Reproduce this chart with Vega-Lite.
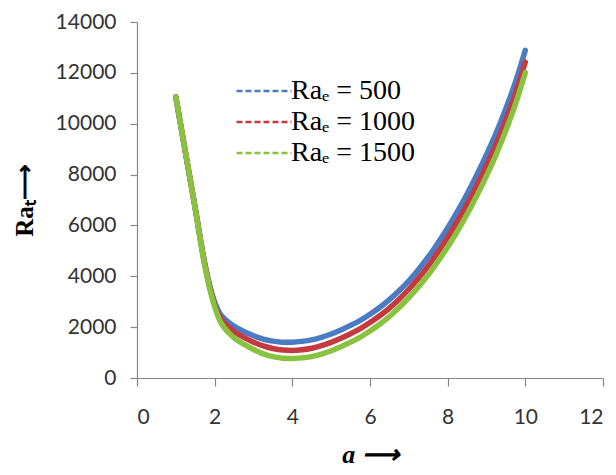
{
  "$schema": "https://vega.github.io/schema/vega-lite/v6.json",
  "autosize": {"type": "none"},
  "width": 466,
  "height": 356,
  "padding": {"left": 137, "top": 22, "right": 13, "bottom": 97},
  "background": "white",
  "config": {"view": {"stroke": null}},
  "datasets": {
    "curves": [
      {"a": 1.0, "Ra": 11050, "s": "Raₑ = 500"},
      {"a": 1.25, "Ra": 8850, "s": "Raₑ = 500"},
      {"a": 1.5, "Ra": 6680, "s": "Raₑ = 500"},
      {"a": 1.75, "Ra": 4470, "s": "Raₑ = 500"},
      {"a": 2.0, "Ra": 2980, "s": "Raₑ = 500"},
      {"a": 2.125, "Ra": 2560, "s": "Raₑ = 500"},
      {"a": 2.25, "Ra": 2330, "s": "Raₑ = 500"},
      {"a": 2.5, "Ra": 2030, "s": "Raₑ = 500"},
      {"a": 2.75, "Ra": 1830, "s": "Raₑ = 500"},
      {"a": 3.0, "Ra": 1660, "s": "Raₑ = 500"},
      {"a": 3.25, "Ra": 1530, "s": "Raₑ = 500"},
      {"a": 3.5, "Ra": 1450, "s": "Raₑ = 500"},
      {"a": 3.75, "Ra": 1410, "s": "Raₑ = 500"},
      {"a": 4.0, "Ra": 1410, "s": "Raₑ = 500"},
      {"a": 4.25, "Ra": 1440, "s": "Raₑ = 500"},
      {"a": 4.5, "Ra": 1500, "s": "Raₑ = 500"},
      {"a": 4.75, "Ra": 1600, "s": "Raₑ = 500"},
      {"a": 5.0, "Ra": 1730, "s": "Raₑ = 500"},
      {"a": 5.25, "Ra": 1890, "s": "Raₑ = 500"},
      {"a": 5.5, "Ra": 2070, "s": "Raₑ = 500"},
      {"a": 5.75, "Ra": 2270, "s": "Raₑ = 500"},
      {"a": 6.0, "Ra": 2510, "s": "Raₑ = 500"},
      {"a": 6.25, "Ra": 2775, "s": "Raₑ = 500"},
      {"a": 6.5, "Ra": 3080, "s": "Raₑ = 500"},
      {"a": 6.75, "Ra": 3430, "s": "Raₑ = 500"},
      {"a": 7.0, "Ra": 3820, "s": "Raₑ = 500"},
      {"a": 7.25, "Ra": 4270, "s": "Raₑ = 500"},
      {"a": 7.5, "Ra": 4760, "s": "Raₑ = 500"},
      {"a": 7.75, "Ra": 5310, "s": "Raₑ = 500"},
      {"a": 8.0, "Ra": 5900, "s": "Raₑ = 500"},
      {"a": 8.25, "Ra": 6540, "s": "Raₑ = 500"},
      {"a": 8.5, "Ra": 7230, "s": "Raₑ = 500"},
      {"a": 8.75, "Ra": 7980, "s": "Raₑ = 500"},
      {"a": 9.0, "Ra": 8780, "s": "Raₑ = 500"},
      {"a": 9.25, "Ra": 9640, "s": "Raₑ = 500"},
      {"a": 9.5, "Ra": 10600, "s": "Raₑ = 500"},
      {"a": 9.75, "Ra": 11660, "s": "Raₑ = 500"},
      {"a": 10.0, "Ra": 12886, "s": "Raₑ = 500"},

      {"a": 1.0, "Ra": 11050, "s": "Raₑ = 1000"},
      {"a": 1.25, "Ra": 8850, "s": "Raₑ = 1000"},
      {"a": 1.5, "Ra": 6665, "s": "Raₑ = 1000"},
      {"a": 1.75, "Ra": 4430, "s": "Raₑ = 1000"},
      {"a": 2.0, "Ra": 2890, "s": "Raₑ = 1000"},
      {"a": 2.125, "Ra": 2430, "s": "Raₑ = 1000"},
      {"a": 2.25, "Ra": 2160, "s": "Raₑ = 1000"},
      {"a": 2.5, "Ra": 1820, "s": "Raₑ = 1000"},
      {"a": 2.75, "Ra": 1600, "s": "Raₑ = 1000"},
      {"a": 3.0, "Ra": 1410, "s": "Raₑ = 1000"},
      {"a": 3.25, "Ra": 1260, "s": "Raₑ = 1000"},
      {"a": 3.5, "Ra": 1160, "s": "Raₑ = 1000"},
      {"a": 3.75, "Ra": 1100, "s": "Raₑ = 1000"},
      {"a": 4.0, "Ra": 1085, "s": "Raₑ = 1000"},
      {"a": 4.25, "Ra": 1110, "s": "Raₑ = 1000"},
      {"a": 4.5, "Ra": 1170, "s": "Raₑ = 1000"},
      {"a": 4.75, "Ra": 1270, "s": "Raₑ = 1000"},
      {"a": 5.0, "Ra": 1400, "s": "Raₑ = 1000"},
      {"a": 5.25, "Ra": 1560, "s": "Raₑ = 1000"},
      {"a": 5.5, "Ra": 1740, "s": "Raₑ = 1000"},
      {"a": 5.75, "Ra": 1940, "s": "Raₑ = 1000"},
      {"a": 6.0, "Ra": 2180, "s": "Raₑ = 1000"},
      {"a": 6.25, "Ra": 2445, "s": "Raₑ = 1000"},
      {"a": 6.5, "Ra": 2750, "s": "Raₑ = 1000"},
      {"a": 6.75, "Ra": 3100, "s": "Raₑ = 1000"},
      {"a": 7.0, "Ra": 3490, "s": "Raₑ = 1000"},
      {"a": 7.25, "Ra": 3930, "s": "Raₑ = 1000"},
      {"a": 7.5, "Ra": 4410, "s": "Raₑ = 1000"},
      {"a": 7.75, "Ra": 4950, "s": "Raₑ = 1000"},
      {"a": 8.0, "Ra": 5530, "s": "Raₑ = 1000"},
      {"a": 8.25, "Ra": 6155, "s": "Raₑ = 1000"},
      {"a": 8.5, "Ra": 6830, "s": "Raₑ = 1000"},
      {"a": 8.75, "Ra": 7565, "s": "Raₑ = 1000"},
      {"a": 9.0, "Ra": 8350, "s": "Raₑ = 1000"},
      {"a": 9.25, "Ra": 9200, "s": "Raₑ = 1000"},
      {"a": 9.5, "Ra": 10150, "s": "Raₑ = 1000"},
      {"a": 9.75, "Ra": 11205, "s": "Raₑ = 1000"},
      {"a": 10.0, "Ra": 12426, "s": "Raₑ = 1000"},

      {"a": 1.0, "Ra": 11050, "s": "Raₑ = 1500"},
      {"a": 1.25, "Ra": 8850, "s": "Raₑ = 1500"},
      {"a": 1.5, "Ra": 6650, "s": "Raₑ = 1500"},
      {"a": 1.75, "Ra": 4390, "s": "Raₑ = 1500"},
      {"a": 2.0, "Ra": 2800, "s": "Raₑ = 1500"},
      {"a": 2.125, "Ra": 2280, "s": "Raₑ = 1500"},
      {"a": 2.25, "Ra": 1970, "s": "Raₑ = 1500"},
      {"a": 2.5, "Ra": 1580, "s": "Raₑ = 1500"},
      {"a": 2.75, "Ra": 1330, "s": "Raₑ = 1500"},
      {"a": 3.0, "Ra": 1120, "s": "Raₑ = 1500"},
      {"a": 3.25, "Ra": 950, "s": "Raₑ = 1500"},
      {"a": 3.5, "Ra": 840, "s": "Raₑ = 1500"},
      {"a": 3.75, "Ra": 780, "s": "Raₑ = 1500"},
      {"a": 4.0, "Ra": 770, "s": "Raₑ = 1500"},
      {"a": 4.25, "Ra": 795, "s": "Raₑ = 1500"},
      {"a": 4.5, "Ra": 840, "s": "Raₑ = 1500"},
      {"a": 4.75, "Ra": 940, "s": "Raₑ = 1500"},
      {"a": 5.0, "Ra": 1070, "s": "Raₑ = 1500"},
      {"a": 5.25, "Ra": 1230, "s": "Raₑ = 1500"},
      {"a": 5.5, "Ra": 1410, "s": "Raₑ = 1500"},
      {"a": 5.75, "Ra": 1610, "s": "Raₑ = 1500"},
      {"a": 6.0, "Ra": 1850, "s": "Raₑ = 1500"},
      {"a": 6.25, "Ra": 2115, "s": "Raₑ = 1500"},
      {"a": 6.5, "Ra": 2420, "s": "Raₑ = 1500"},
      {"a": 6.75, "Ra": 2770, "s": "Raₑ = 1500"},
      {"a": 7.0, "Ra": 3160, "s": "Raₑ = 1500"},
      {"a": 7.25, "Ra": 3590, "s": "Raₑ = 1500"},
      {"a": 7.5, "Ra": 4060, "s": "Raₑ = 1500"},
      {"a": 7.75, "Ra": 4590, "s": "Raₑ = 1500"},
      {"a": 8.0, "Ra": 5150, "s": "Raₑ = 1500"},
      {"a": 8.25, "Ra": 5770, "s": "Raₑ = 1500"},
      {"a": 8.5, "Ra": 6440, "s": "Raₑ = 1500"},
      {"a": 8.75, "Ra": 7170, "s": "Raₑ = 1500"},
      {"a": 9.0, "Ra": 7950, "s": "Raₑ = 1500"},
      {"a": 9.25, "Ra": 8795, "s": "Raₑ = 1500"},
      {"a": 9.5, "Ra": 9740, "s": "Raₑ = 1500"},
      {"a": 9.75, "Ra": 10790, "s": "Raₑ = 1500"},
      {"a": 10.0, "Ra": 12009, "s": "Raₑ = 1500"}
    ]
  },
  "data": {"name": "curves"},
  "encoding": {
    "x": {
      "field": "a", "type": "quantitative",
      "scale": {"domain": [0, 12], "nice": false},
      "axis": {
        "values": [0, 2, 4, 6, 8, 10, 12],
        "title": "a ⟶",
        "titleFont": "Liberation Serif", "titleFontSize": 26, "titleFontWeight": "bold", "titleFontStyle": "italic",
        "titleColor": "black", "titlePadding": 14,
        "labelFont": "Lato", "labelFontSize": 21, "labelColor": "#333333", "labelPadding": 20,
        "grid": false, "domainColor": "#868686", "tickColor": "#868686", "tickSize": 8, "domainWidth": 1.2, "tickWidth": 1.2
      }
    },
    "y": {
      "field": "Ra", "type": "quantitative",
      "scale": {"domain": [0, 14000], "nice": false},
      "axis": {
        "values": [0, 2000, 4000, 6000, 8000, 10000, 12000, 14000],
        "format": "d",
        "title": "Raₜ⟶",
        "titleFont": "Liberation Serif", "titleFontSize": 25, "titleFontWeight": "bold",
        "titleColor": "black", "titlePadding": 18,
        "labelFont": "Lato", "labelFontSize": 21, "labelColor": "#333333", "labelPadding": 14,
        "grid": false, "domainColor": "#868686", "tickColor": "#868686", "tickSize": 7, "domainWidth": 1.2, "tickWidth": 1.2
      }
    },
    "color": {
      "field": "s", "type": "nominal",
      "scale": {"domain": ["Raₑ = 500", "Raₑ = 1000", "Raₑ = 1500"], "range": ["#4A7CC4", "#C43A40", "#88C23E"]},
      "legend": {
        "title": null, "orient": "none", "legendX": 98, "legendY": 53.5,
        "symbolType": "stroke", "symbolSize": 3025, "symbolStrokeWidth": 2.5, "symbolDash": [6, 3],
        "labelFont": "Liberation Serif", "labelFontSize": 28, "labelColor": "black", "labelOffset": -2,
        "clipHeight": 31, "rowPadding": 0
      }
    }
  },
  "layer": [
    {"transform": [{"filter": "datum.s == 'Raₑ = 500'"}], "mark": {"type": "line", "interpolate": "monotone", "strokeWidth": 5.5, "strokeCap": "round"}},
    {"transform": [{"filter": "datum.s == 'Raₑ = 1000'"}], "mark": {"type": "line", "interpolate": "monotone", "strokeWidth": 5.5, "strokeCap": "round"}},
    {"transform": [{"filter": "datum.s == 'Raₑ = 1500'"}], "mark": {"type": "line", "interpolate": "monotone", "strokeWidth": 5.5, "strokeCap": "round"}}
  ]
}
